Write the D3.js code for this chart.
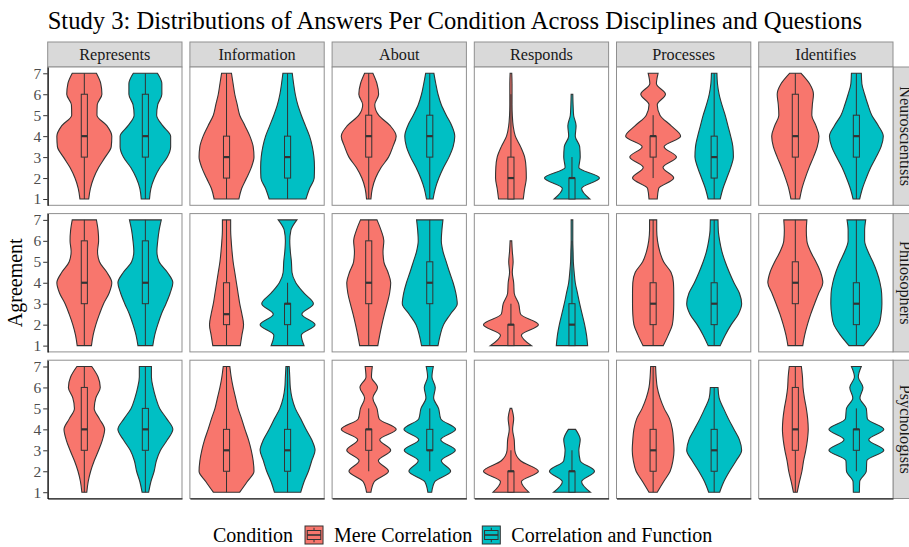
<!DOCTYPE html>
<html>
<head>
<meta charset="utf-8">
<script src="https://cdn.jsdelivr.net/npm/d3@7"></script>
<style>
  body { margin: 0; background: #fff; }
  svg { display: block; }
  text { font-family: "Liberation Serif", "Times New Roman", serif; }
</style>
</head>
<body>
<svg id="chart" width="909" height="547"></svg>
<script>
// ---- data -------------------------------------------------------------
const questions = ["Represents", "Information", "About", "Responds", "Processes", "Identifies"];
const disciplines = ["Neuroscientists", "Philosophers", "Psychologists"];
const conditions = ["Mere Correlation", "Correlation and Function"];
const conditionColors = ["#F8766D", "#00BFC4"];
const yTicks = [1, 2, 3, 4, 5, 6, 7];

// Each violin: c = condition index, hi = highest answer given,
// dens = relative density width every half point from hi down to 1,
// box = [lower whisker, Q1, median, Q3, upper whisker]
const neuroscientists = [
  { q: "Represents",  c: 0, hi: 7, dens: [0.44,0.60,0.64,0.47,0.46,0.82,1.00,0.98,0.76,0.52,0.34,0.22,0.16], box: [1,3,4,6,7] },
  { q: "Represents",  c: 1, hi: 7, dens: [0.44,0.60,0.60,0.45,0.41,0.63,0.92,0.92,0.80,0.53,0.33,0.20,0.15], box: [1,3,4,6,7] },
  { q: "Information", c: 0, hi: 7, dens: [0.18,0.24,0.30,0.39,0.48,0.67,0.85,0.97,1.00,0.90,0.73,0.55,0.45], box: [1,2,3,4,7] },
  { q: "Information", c: 1, hi: 7, dens: [0.17,0.22,0.28,0.37,0.50,0.65,0.80,0.90,0.96,0.98,0.97,0.80,0.67], box: [1,2,3,4,7] },
  { q: "About",       c: 0, hi: 7, dens: [0.15,0.30,0.36,0.22,0.36,0.78,1.00,0.88,0.72,0.45,0.25,0.13,0.08], box: [1,3,4,5,7] },
  { q: "About",       c: 1, hi: 7, dens: [0.15,0.22,0.30,0.42,0.60,0.80,0.91,0.85,0.70,0.50,0.33,0.20,0.12], box: [1,3,4,5,7] },
  { q: "Responds",    c: 0, hi: 7, dens: [0.03,0.04,0.04,0.04,0.05,0.08,0.16,0.35,0.50,0.55,0.56,0.50,0.45], box: [1,1,2,3,6] },
  { q: "Responds",    c: 1, hi: 6, dens: [0.03,0.04,0.06,0.15,0.12,0.28,0.30,0.25,1.00,0.35,0.65], box: [1,1,2,2,3] },
  { q: "Processes",   c: 0, hi: 7, dens: [0.18,0.12,0.45,0.15,0.25,0.65,1.00,0.40,0.85,0.36,0.75,0.20,0.15], box: [2,3,4,4,5] },
  { q: "Processes",   c: 1, hi: 7, dens: [0.10,0.12,0.18,0.28,0.40,0.50,0.60,0.68,0.70,0.60,0.46,0.32,0.22], box: [1,2,3,4,7] },
  { q: "Identifies",  c: 0, hi: 7, dens: [0.21,0.52,0.66,0.62,0.60,0.75,0.86,0.80,0.66,0.50,0.36,0.24,0.16], box: [1,3,4,6,7] },
  { q: "Identifies",  c: 1, hi: 7, dens: [0.18,0.20,0.30,0.42,0.56,0.80,0.98,0.90,0.72,0.52,0.36,0.22,0.12], box: [1,3,4,5,7] }
];

const philosophers = [
  { q: "Represents",  c: 0, hi: 7, dens: [0.44,0.50,0.52,0.48,0.55,0.82,1.00,0.90,0.70,0.55,0.42,0.32,0.26], box: [1,3,4,6,7] },
  { q: "Represents",  c: 1, hi: 7, dens: [0.58,0.50,0.45,0.42,0.50,0.80,1.00,0.90,0.75,0.58,0.45,0.34,0.27], box: [1,3,4,6,7] },
  { q: "Information", c: 0, hi: 7, dens: [0.15,0.15,0.17,0.20,0.24,0.30,0.36,0.42,0.48,0.56,0.62,0.56,0.50], box: [1,2,2.5,4,7] },
  { q: "Information", c: 1, hi: 7, dens: [0.34,0.12,0.08,0.10,0.14,0.16,0.30,0.60,0.94,0.52,1.00,0.50,0.60], box: [1,2,3,3,4] },
  { q: "About",       c: 0, hi: 7, dens: [0.30,0.45,0.55,0.52,0.55,0.70,0.80,0.76,0.67,0.57,0.48,0.40,0.33], box: [1,3,4,6,7] },
  { q: "About",       c: 1, hi: 7, dens: [0.48,0.44,0.42,0.48,0.60,0.72,0.85,0.95,1.00,0.75,0.50,0.38,0.30], box: [1,3,4,5,7] },
  { q: "Responds",    c: 0, hi: 6, dens: [0.03,0.05,0.08,0.05,0.10,0.12,0.28,0.35,1.00,0.38,0.75], box: [1,1,2,2,3] },
  { q: "Responds",    c: 1, hi: 7, dens: [0.03,0.03,0.03,0.04,0.05,0.08,0.12,0.20,0.28,0.37,0.46,0.53,0.57], box: [1,1,2,3,6] },
  { q: "Processes",   c: 0, hi: 7, dens: [0.13,0.13,0.16,0.24,0.38,0.65,0.74,0.75,0.75,0.74,0.70,0.55,0.37], box: [1,2,3,4,7] },
  { q: "Processes",   c: 1, hi: 7, dens: [0.14,0.15,0.20,0.28,0.40,0.55,0.72,0.92,1.00,0.88,0.62,0.40,0.22], box: [1,2,3,4,7] },
  { q: "Identifies",  c: 0, hi: 7, dens: [0.42,0.40,0.42,0.55,0.75,0.92,1.00,0.85,0.70,0.56,0.44,0.34,0.27], box: [1,3,4,5,7] },
  { q: "Identifies",  c: 1, hi: 7, dens: [0.34,0.30,0.30,0.42,0.60,0.75,0.86,0.92,0.93,0.90,0.82,0.58,0.27], box: [1,2,3,4,7] }
];

const psychologists = [
  { q: "Represents",  c: 0, hi: 7, dens: [0.27,0.50,0.58,0.42,0.36,0.55,0.74,0.66,0.52,0.36,0.23,0.14,0.09], box: [1,3,4,6,7] },
  { q: "Represents",  c: 1, hi: 7, dens: [0.22,0.22,0.28,0.38,0.52,0.78,1.00,0.80,0.55,0.40,0.32,0.20,0.12], box: [1,3,4,5,7] },
  { q: "Information", c: 0, hi: 7, dens: [0.12,0.17,0.24,0.33,0.42,0.55,0.67,0.80,0.90,0.97,1.00,0.75,0.48], box: [1,2,3,4,7] },
  { q: "Information", c: 1, hi: 7, dens: [0.06,0.08,0.10,0.16,0.28,0.48,0.67,0.88,1.00,0.88,0.76,0.60,0.48], box: [1,2,3,4,7] },
  { q: "About",       c: 0, hi: 7, dens: [0.13,0.10,0.32,0.15,0.30,0.38,1.00,0.40,0.80,0.35,0.72,0.20,0.08], box: [2,3,4,4,5] },
  { q: "About",       c: 1, hi: 7, dens: [0.13,0.08,0.20,0.14,0.32,0.40,0.94,0.40,0.93,0.42,0.76,0.18,0.07], box: [2,3,3,4,5] },
  { q: "Responds",    c: 0, hi: 5, dens: [0.03,0.10,0.06,0.12,0.14,0.35,1.00,0.38,0.65], box: [1,1,2,2,3] },
  { q: "Responds",    c: 1, hi: 4, dens: [0.13,0.30,0.25,0.30,0.82,0.35,0.67], box: [1,1,2,2,3] },
  { q: "Processes",   c: 0, hi: 7, dens: [0.09,0.11,0.15,0.25,0.40,0.60,0.70,0.74,0.76,0.72,0.62,0.38,0.15], box: [1,2,3,4,7] },
  { q: "Processes",   c: 1, hi: 6, dens: [0.14,0.18,0.34,0.52,0.72,0.92,1.00,0.80,0.56,0.35,0.20], box: [1,2,3,4,6] },
  { q: "Identifies",  c: 0, hi: 7, dens: [0.22,0.26,0.28,0.33,0.40,0.45,0.47,0.44,0.38,0.30,0.24,0.15,0.07], box: [1,3,4,6,7] },
  { q: "Identifies",  c: 1, hi: 7, dens: [0.18,0.07,0.24,0.13,0.36,0.40,1.00,0.45,1.00,0.38,0.36,0.12,0.11], box: [2,3,4,4,5] }
];

const violinsByDiscipline = [neuroscientists, philosophers, psychologists];

// ---- layout -----------------------------------------------------------
const svg = d3.select("#chart");
const serif = "Liberation Serif, Times New Roman, serif";
const panelLeft = 47.7, panelW = 134.3, colGap = 7.9;
const panelTop = 67, panelH = 138.3, rowGap = 8.3;
const stripH = 25, stripW = 25;
const frameGrey = "#8f8f8f", stripFill = "#d9d9d9", ink = "#333333";

const x = d3.scalePoint().domain(conditions).range([0, panelW]).padding(0.6);
const y = d3.scaleLinear().domain([0.7, 7.3]).range([panelH, 0]);
const halfMax = 0.45 * x.step();   // violin width 0.9
const boxHalf = 0.05 * x.step();   // box width 0.1

const colX = i => panelLeft + i * (panelW + colGap);
const rowY = j => panelTop + j * (panelH + rowGap);

// title
svg.append("text")
  .attr("x", panelLeft).attr("y", 29)
  .attr("font-size", 24.6).attr("fill", "#000")
  .text("Study 3: Distributions of Answers Per Condition Across Disciplines and Questions");

// column strips
questions.forEach((q, i) => {
  const g = svg.append("g").attr("transform", `translate(${colX(i)},${panelTop - stripH})`);
  g.append("rect").attr("width", panelW).attr("height", stripH)
    .attr("fill", stripFill).attr("stroke", frameGrey).attr("stroke-width", 1);
  g.append("text").attr("x", panelW / 2).attr("y", stripH / 2).attr("dy", "0.35em")
    .attr("text-anchor", "middle").attr("font-size", 16.2).attr("fill", "#1a1a1a").text(q);
});

// row strips
disciplines.forEach((d, j) => {
  const g = svg.append("g").attr("transform", `translate(${colX(questions.length - 1) + panelW},${rowY(j)})`);
  g.append("rect").attr("width", stripW).attr("height", panelH)
    .attr("fill", stripFill).attr("stroke", frameGrey).attr("stroke-width", 1);
  g.append("g").attr("transform", `translate(${stripW / 2},${panelH / 2})`)
    .append("text").attr("transform", "rotate(90)")
    .attr("dy", "0.35em").attr("text-anchor", "middle")
    .attr("font-size", 16.2).attr("fill", "#1a1a1a").text(d);
});

// panels
violinsByDiscipline.forEach((violins, j) => {
  questions.forEach((q, i) => {
    const g = svg.append("g").attr("transform", `translate(${colX(i)},${rowY(j)})`);
    g.append("rect").attr("width", panelW).attr("height", panelH).attr("fill", "#fff");

    violins.filter(v => v.q === q).forEach(v => {
      const cx = x(conditions[v.c]);
      const pts = v.dens.map((w, k) => ({ v: v.hi - k * 0.5, w }));
      const area = d3.area()
        .curve(d3.curveMonotoneY)
        .y(d => y(d.v))
        .x0(d => cx - d.w * halfMax)
        .x1(d => cx + d.w * halfMax);
      g.append("path").attr("d", area(pts))
        .attr("fill", conditionColors[v.c]).attr("stroke", ink).attr("stroke-width", 1.1);

      const [wlo, q1, med, q3, whi] = v.box;
      g.append("line").attr("x1", cx).attr("x2", cx).attr("y1", y(whi)).attr("y2", y(q3))
        .attr("stroke", ink).attr("stroke-width", 1);
      g.append("line").attr("x1", cx).attr("x2", cx).attr("y1", y(q1)).attr("y2", y(wlo))
        .attr("stroke", ink).attr("stroke-width", 1);
      g.append("rect").attr("x", cx - boxHalf).attr("width", 2 * boxHalf)
        .attr("y", y(q3)).attr("height", Math.max(0, y(q1) - y(q3)))
        .attr("fill", conditionColors[v.c]).attr("stroke", ink).attr("stroke-width", 1);
      g.append("line").attr("x1", cx - boxHalf).attr("x2", cx + boxHalf)
        .attr("y1", y(med)).attr("y2", y(med))
        .attr("stroke", ink).attr("stroke-width", 2.2);
    });

    g.append("rect").attr("width", panelW).attr("height", panelH)
      .attr("fill", "none").attr("stroke", frameGrey).attr("stroke-width", 1);

    if (i === 0) {
      const ax = g.append("g").call(
        d3.axisLeft(y).tickValues(yTicks).tickFormat(d3.format("d"))
          .tickSizeInner(4.5).tickSizeOuter(0).tickPadding(2));
      ax.attr("font-family", serif).attr("font-size", 15.5);
      ax.select(".domain").attr("stroke", "#000").attr("stroke-width", 1.1);
      ax.selectAll(".tick line").attr("stroke", "#333").attr("stroke-width", 1);
      ax.selectAll(".tick text").attr("fill", "#4d4d4d");
    }
    if (j === violinsByDiscipline.length - 1) {
      const ax = g.append("g").attr("transform", `translate(0,${panelH})`)
        .call(d3.axisBottom(d3.scaleLinear().range([0, panelW])).tickValues([]).tickSizeOuter(0));
      ax.select(".domain").attr("stroke", "#000").attr("stroke-width", 1.1);
    }
  });
});

// y axis title
const yMid = (rowY(0) + rowY(disciplines.length - 1) + panelH) / 2;
svg.append("g").attr("transform", `translate(22,${yMid})`)
  .append("text").attr("transform", "rotate(-90)")
  .attr("text-anchor", "middle").attr("font-size", 20).attr("fill", "#000")
  .text("Agreement");

// legend
const legend = svg.append("g").attr("transform", "translate(213,535)");
let lx = 0;
const legTitle = legend.append("text").attr("x", lx).attr("dy", "0.35em")
  .attr("font-size", 20).attr("fill", "#000").text("Condition");
lx += legTitle.node().getComputedTextLength() + 12;
conditions.forEach((c, k) => {
  const key = legend.append("g").attr("transform", `translate(${lx},-9)`);
  const s = 18;
  key.append("rect").attr("width", s).attr("height", s)
    .attr("fill", conditionColors[k]).attr("stroke", ink).attr("stroke-width", 1);
  key.append("line").attr("x1", s / 2).attr("x2", s / 2).attr("y1", s * 0.1).attr("y2", s * 0.25)
    .attr("stroke", ink);
  key.append("line").attr("x1", s / 2).attr("x2", s / 2).attr("y1", s * 0.75).attr("y2", s * 0.9)
    .attr("stroke", ink);
  key.append("rect").attr("x", s * 0.125).attr("y", s * 0.25).attr("width", s * 0.75).attr("height", s * 0.5)
    .attr("fill", conditionColors[k]).attr("stroke", ink).attr("stroke-width", 1);
  key.append("line").attr("x1", s * 0.125).attr("x2", s * 0.875).attr("y1", s / 2).attr("y2", s / 2)
    .attr("stroke", ink).attr("stroke-width", 1.6);
  lx += s + 11;
  const t = legend.append("text").attr("x", lx).attr("dy", "0.35em")
    .attr("font-size", 20).attr("fill", "#000").text(c);
  lx += t.node().getComputedTextLength() + 10;
});
</script>
</body>
</html>
